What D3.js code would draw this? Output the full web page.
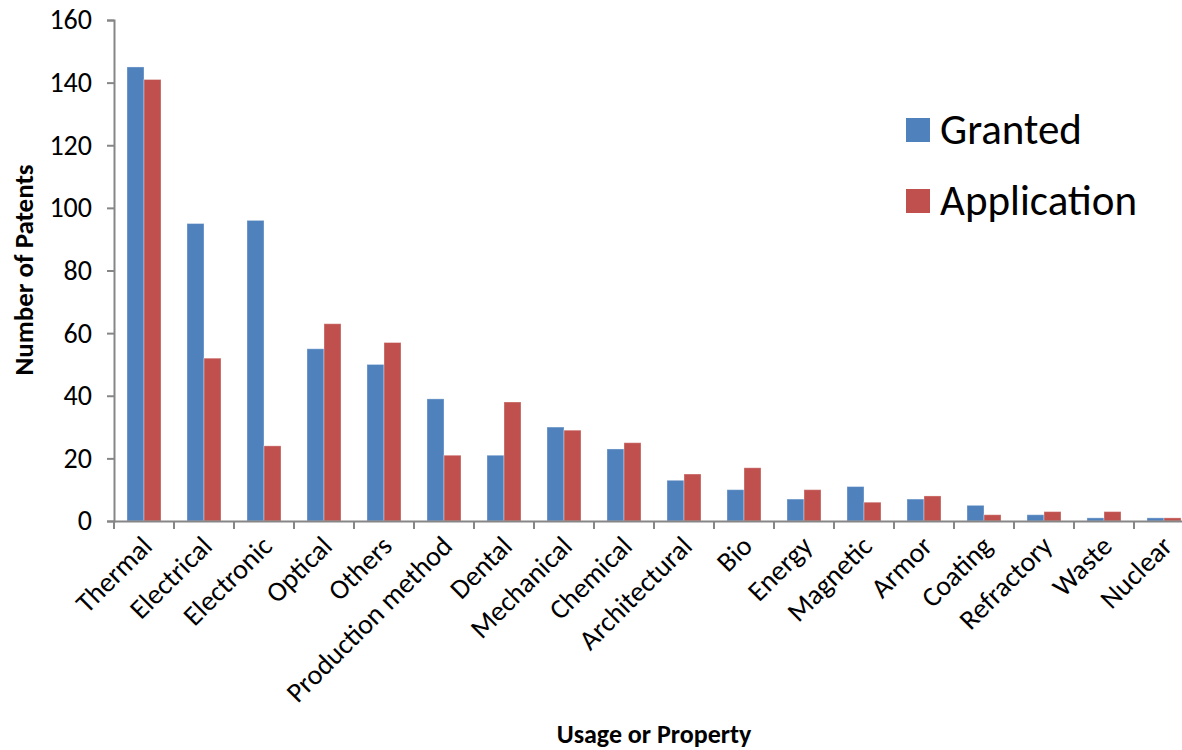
<!DOCTYPE html>
<html>
<head>
<meta charset="utf-8">
<script src="https://cdn.jsdelivr.net/npm/d3@7"></script>
<style>
  body { margin: 0; background: #fff; }
  svg { display: block; font-family: Carlito, Calibri, Lato, sans-serif; }
  .axis path, .axis line { stroke: #868686; stroke-width: 2; }
</style>
</head>
<body>
<div id="chart"></div>
<script>
// chart data
var categories = ["Thermal", "Electrical", "Electronic", "Optical", "Others", "Production method",
  "Dental", "Mechanical", "Chemical", "Architectural", "Bio", "Energy", "Magnetic", "Armor",
  "Coating", "Refractory", "Waste", "Nuclear"];
var granted     = [145, 95, 96, 55, 50, 39, 21, 30, 23, 13, 10, 7, 11, 7, 5, 2, 1, 1];
var application = [141, 52, 24, 63, 57, 21, 38, 29, 25, 15, 17, 10, 6, 8, 2, 3, 3, 1];
var seriesNames = ["Granted", "Application"];
var yTicks = [0, 20, 40, 60, 80, 100, 120, 140, 160];

var svgWidth = 1182;
var svgHeight = 750;
var colors = ["#4F81BD", "#C0504D"];
var font = "Carlito, Calibri, Lato, sans-serif";

var svg = d3.select("#chart")
  .append("svg")
  .attr("width", svgWidth)
  .attr("height", svgHeight);

// plot area runs past the right edge, like the source picture
var x = d3.scaleBand()
  .domain(categories)
  .range([114, 1194]);

var xSeries = d3.scaleBand()
  .domain(seriesNames)
  .range([x.bandwidth() * 0.2167, x.bandwidth() * 0.7833]);

var y = d3.scaleLinear()
  .domain([0, 160])
  .range([521, 20]);

var rows = categories.map(function(c, i) {
  return { cat: c, values: [granted[i], application[i]] };
});

// bars
var groups = svg.append("g").selectAll("g")
  .data(rows)
  .enter()
  .append("g")
  .attr("transform", d => `translate(${x(d.cat)},0)`);

groups.selectAll("rect")
  .data(d => d.values.map((v, i) => ({ name: seriesNames[i], value: v, i: i })))
  .enter()
  .append("rect")
  .attr("x", d => xSeries(d.name))
  .attr("width", xSeries.bandwidth())
  .attr("y", d => y(d.value))
  .attr("height", d => y(0) - y(d.value))
  .attr("fill", d => colors[d.i])
  .attr("stroke", "rgba(255,255,255,0.35)")
  .attr("stroke-width", 1);

// y axis
var leftAxis = d3.axisLeft(y)
  .tickValues(yTicks)
  .tickSize(7)
  .tickSizeOuter(7)
  .tickPadding(15);

var yAxisG = svg.append("g")
  .attr("class", "axis")
  .attr("transform", "translate(114,0)")
  .call(leftAxis)
  .attr("font-family", font)
  .attr("font-size", 28);
yAxisG.selectAll("text")
  .attr("fill", "#000");

// x axis: line plus ticks at category boundaries
var bottomAxis = d3.axisBottom(x).tickSize(0).tickSizeOuter(0).tickFormat("");
var xAxisG = svg.append("g")
  .attr("class", "axis")
  .attr("transform", `translate(0,${y(0)})`)
  .call(bottomAxis);

var bounds = categories.map(c => x(c)).concat([x.range()[1]]);
xAxisG.selectAll("line.bound")
  .data(bounds)
  .enter()
  .append("line")
  .attr("class", "bound")
  .attr("x1", d => d)
  .attr("x2", d => d)
  .attr("y1", 0)
  .attr("y2", 8);

// rotated category labels
svg.append("g").selectAll("text")
  .data(categories)
  .enter()
  .append("text")
  .attr("transform", d => `translate(${x(d) + x.bandwidth() / 2 - 4},${y(0) + 13}) rotate(-45)`)
  .attr("text-anchor", "end")
  .attr("dy", "0.7em")
  .style("font-size", "28px")
  .text(d => d);

// axis titles
svg.append("text")
  .attr("transform", "translate(33,270) rotate(-90)")
  .attr("text-anchor", "middle")
  .style("font-size", "27px")
  .style("font-weight", "bold")
  .text("Number of Patents");

svg.append("text")
  .attr("x", 654)
  .attr("y", 743)
  .attr("text-anchor", "middle")
  .style("font-size", "26px")
  .style("font-weight", "bold")
  .text("Usage or Property");

// legend
var legend = svg.append("g").selectAll("g")
  .data(seriesNames)
  .enter()
  .append("g")
  .attr("transform", (d, i) => `translate(906,${118 + i * 71})`);

legend.append("rect")
  .attr("width", 24)
  .attr("height", 24)
  .attr("fill", (d, i) => colors[i]);

legend.append("text")
  .attr("x", 34)
  .attr("y", 26)
  .style("font-size", "43px")
  .text(d => d);
</script>
</body>
</html>
